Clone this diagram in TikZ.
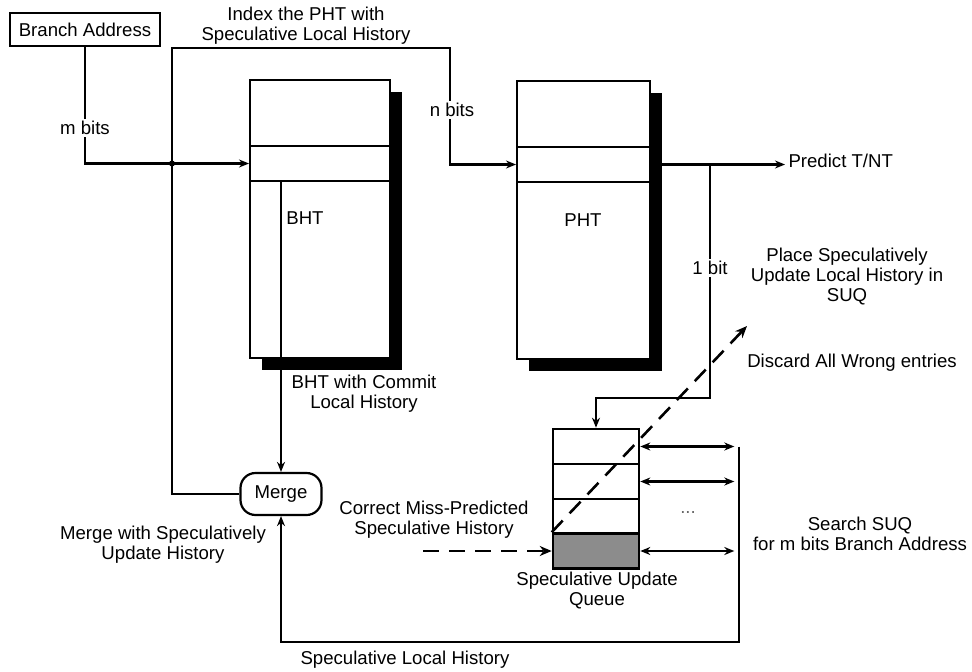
\documentclass[tikz,border=0pt]{standalone}
\usepackage{fontspec}
\setmainfont{Liberation Sans}
\usepackage{tikz}
\usetikzlibrary{shapes,arrows,arrows.meta,positioning,calc,shadows}
\tikzstyle{arrow} = [line width=2.2pt,->,>={Stealth[length=10pt,width=8pt]}]
\tikzstyle{dasharrow} = [line width=2.6pt,->,>={Stealth[length=12pt,width=10pt]},dash pattern=on 16pt off 10pt]
\tikzstyle{tablebox} = [rectangle, draw, line width=2pt, fill=white, general shadow={fill=black, shadow xshift=12pt, shadow yshift=-12pt}]
\tikzstyle{rowbox} = [rectangle, draw, line width=2pt, inner sep=0pt]
\tikzstyle{label} = [align=center]

\begin{document}
\begin{tikzpicture}[x=1pt, y=-1pt, font=\fontsize{18.6}{20}\selectfont]
    \useasboundingbox (0,0) rectangle (972,672);
    % the two tables
    \node[tablebox, minimum width=140pt, minimum height=278pt] (bht) at (320,219) {};
    \node[rowbox, minimum width=140pt, minimum height=35pt] (bhtrow) at (320,163.5) {};
    \node (bhtlbl) at (305,218) {BHT};
    \node[tablebox, minimum width=133pt, minimum height=278pt] (pht) at (583.5,220) {};
    \node[rowbox, minimum width=133pt, minimum height=35pt] (phtrow) at (583.5,164.5) {};
    \node (phtlbl) at (583,220) {PHT};
    \node[rectangle, draw, line width=2.4pt, minimum width=150pt, minimum height=33pt] (addr) at (85,29.5) {Branch Address};
    \node[rectangle, draw, line width=2.2pt, rounded corners=15pt, minimum width=81pt, minimum height=42pt] (merge) at (281,494) {Merge};
    % speculative update queue
    \foreach \i/\y in {1/446.5,2/481.5,3/516.5} {
        \node[rowbox, line width=2.6pt, fill=white, minimum width=86pt, minimum height=35pt] (q\i) at (596,\y) {};
    }
    \node[rowbox, line width=2.6pt, fill=black!45, minimum width=86pt, minimum height=35pt] (q4) at (596,551) {};

    \draw[arrow] (addr.south) |- (bhtrow.west);
    \node[fill=white, inner sep=2pt] (mbits) at (85,128) {m bits};
    \coordinate (jn) at (172,163.5);
    \fill (jn) circle (3pt);
    \coordinate (tl) at (172,48);
    \coordinate (tr) at (450,48);
    \draw[arrow] (merge.west) -| (tl) -- (tr) |- (phtrow.west);
    \node[fill=white, inner sep=2pt] (nbits) at (452,110) {n bits};
    \node[label] (idx) at (306,26) {Index the PHT with\\Speculative Local History};
    \draw[arrow] (bhtrow.south -| merge.north) -- (merge.north);
    \node[label] (commit) at (364,394) {BHT with Commit\\Local History};

    \node[anchor=west] (pred) at (785,161) {Predict T/NT};
    \draw[arrow] (phtrow.east) -- (pred.west |- phtrow.east);
    \coordinate (tap) at (710,164.5);
    \coordinate (qin) at (710,398);
    \draw[arrow] (tap) -- (qin) -| (q1.north);
    \node[fill=white, inner sep=2pt] (onebit) at (710,268) {1 bit};

    \foreach \i in {1,2,4} {
        \draw[arrow, <->] (q\i.east) -- ++(94,0);
    }
    \node[text=black!60] (dots) at (688,512) {...};
    \coordinate (sr) at (739,446.5);
    \coordinate (sb) at (739,642);
    \draw[arrow] (sr) -- (sb) -| (merge.south);
    \node (slh) at (405,660) {Speculative Local History};

    \coordinate (cm) at (423,551);
    \draw[dasharrow] (cm) -- (q4.west);
    \coordinate (disc) at (747,326);
    \draw[dasharrow] (q4.north west) -- (disc);

    \node[label] (mergelbl) at (163,545) {Merge with Speculatively\\Update History};
    \node[label] (corr) at (434,520) {Correct Miss-Predicted\\Speculative History};
    \node[label] (suqlbl) at (597,591) {Speculative Update\\Queue};
    \node[label] (place) at (847,277) {Place Speculatively\\Update Local History in\\SUQ};
    \node[label] (discard) at (852,363) {Discard All Wrong entries};
    \node[label] (search) at (860,534) {Search SUQ\\for m bits Branch Address};
\end{tikzpicture}
\end{document}
